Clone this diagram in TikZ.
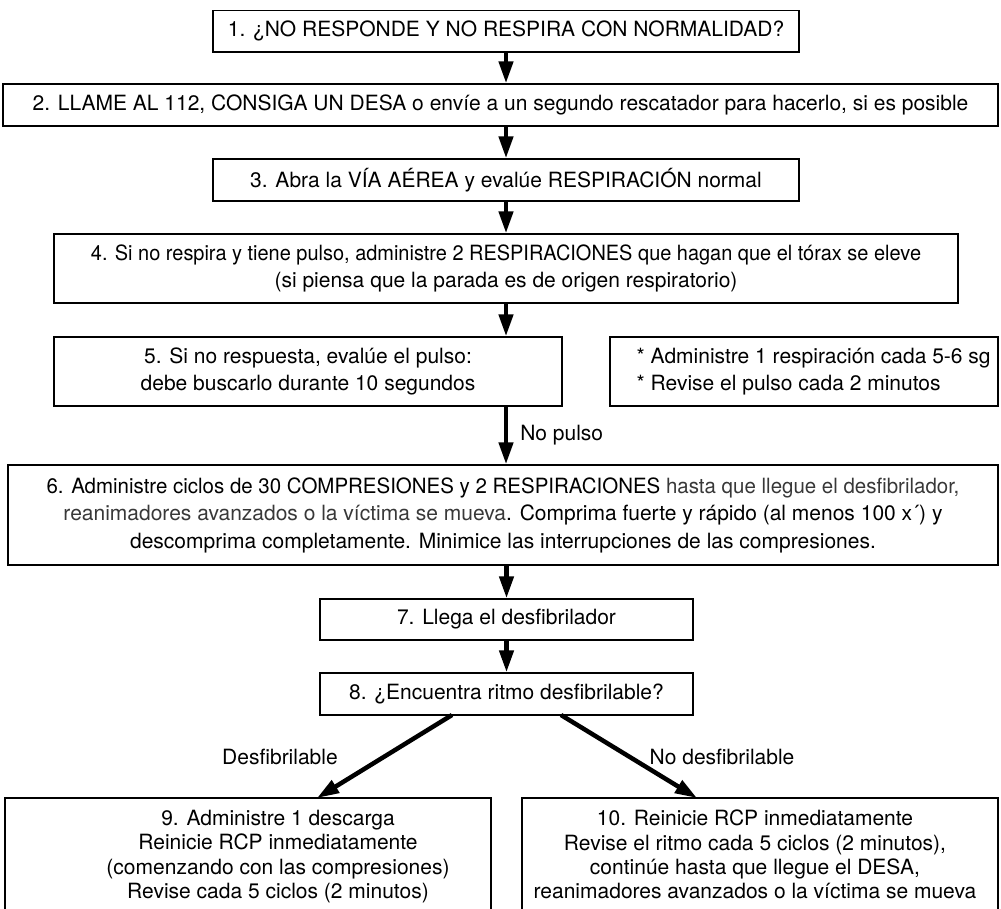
\documentclass[tikz,border=0pt]{standalone}
\usepackage{fontspec}
\setmainfont{TeX Gyre Heros}
\usetikzlibrary{arrows.meta}

\begin{document}
\begin{tikzpicture}[x=1pt,y=-1pt,
  box/.style={draw, line width=1.4pt, inner sep=0pt, align=center,
              font=\fontsize{21}{26.5}\selectfont},
  note/.style={inner sep=0pt, align=center, font=\fontsize{21}{24.3}\selectfont},
  flow/.style={line width=4.5pt, -{Triangle[length=22pt,width=14pt]}},
  lbl/.style={inner sep=0pt, font=\fontsize{21}{24}\selectfont},
  soft/.style={color=black!78}]

\useasboundingbox (0,0) rectangle (1001,909);
\clip (0,0) rectangle (1001,909);

% main column of steps
\node[box, minimum width=586pt, minimum height=41.5pt] (b1) at (506,31.25)
  {1. ¿NO RESPONDE Y NO RESPIRA CON NORMALIDAD?};
\node[box, minimum width=995pt, minimum height=42pt] (b2) at (500.5,105)
  {2. LLAME AL 112, CONSIGA UN DESA o envíe a un segundo rescatador para hacerlo, si es posible};
\node[box, minimum width=586pt, minimum height=42pt] (b3) at (506,180)
  {3. Abra la VÍA AÉREA y evalúe RESPIRACIÓN normal};
\node[box, minimum width=904pt, minimum height=69pt] (b4) at (506,268.5)
  {\scalebox{0.95}[1]{4. Si no respira y tiene pulso, administre 2 RESPIRACIONES que hagan que el tórax se eleve}\\
   (si piensa que la parada es de origen respiratorio)};
\node[box, minimum width=508pt, minimum height=69pt] (b5) at (308,371.5)
  {5. Si no respuesta, evalúe el pulso:\\ debe buscarlo durante 10 segundos};
\node[box, minimum width=388pt, minimum height=69pt] (side) at (804,371.5) {};
\node[box, draw=none, align=left, anchor=west] (sidet) at (636,371.5)
  {* Administre 1 respiración cada 5-6 sg\\ * Revise el pulso cada 2 minutos};
\node[box, minimum width=990pt, minimum height=100pt,
      font=\fontsize{21}{27.5}\selectfont] (b6) at (503,515)
  {\scalebox{0.975}[1]{6. Administre ciclos de 30 COMPRESIONES y 2 RESPIRACIONES {\color{black!78}hasta que llegue el desfibrilador,}}\\
   {\color{black!78}reanimadores avanzados o la víctima se mueva}. Comprima fuerte y rápido (al menos 100 x´) y\\
   descomprima completamente. Minimice las interrupciones de las compresiones.};
\node[box, minimum width=373pt, minimum height=41pt] (b7) at (506.5,619.5)
  {7. Llega el desfibrilador};
\node[box, minimum width=373pt, minimum height=42pt] (b8) at (506.5,694)
  {8. ¿Encuentra ritmo desfibrilable?};

% the two outcome boxes run past the lower edge
\node[box, minimum width=486pt, minimum height=140pt] (b9) at (248,868) {};
\node[box, minimum width=476pt, minimum height=140pt] (b10) at (760,868) {};
\node[note, anchor=north] (t9) at (278,810)
  {9. Administre 1 descarga\\ Reinicie RCP inmediatamente\\
   (comenzando con las compresiones)\\ Revise cada 5 ciclos (2 minutos)};
\node[note, anchor=north] (t10) at (755,810)
  {10. Reinicie RCP inmediatamente\\ Revise el ritmo cada 5 ciclos (2 minutos),\\
   continúe hasta que llegue el DESA,\\ reanimadores avanzados o la víctima se mueva};

% connectors
\draw[flow] (b1.south) -- (b1.south |- b2.north);
\draw[flow] (b3.north |- b2.south) -- (b3.north);
\draw[flow] (b3.south) -- (b4.north);
\draw[flow] (b4.south) -- (b4.south |- b5.north);
\draw[flow] (b4.south |- b5.south) -- (b4.south |- b6.north)
  node[lbl, midway, anchor=west, xshift=12pt] (np) {No pulso};
\draw[flow] (b7.north |- b6.south) -- (b7.north);
\draw[flow] (b7.south) -- (b8.north);

\coordinate (s9) at (452,715);
\coordinate (s10) at (561,715);
\coordinate (e9) at (317,798);
\coordinate (e10) at (697,798);
\draw[flow] (s9) -- (e9);
\draw[flow] (s10) -- (e10);
\node[lbl] (l9) at (280,757) {Desfibrilable};
\node[lbl] (l10) at (722,757) {No desfibrilable};

\end{tikzpicture}
\end{document}
